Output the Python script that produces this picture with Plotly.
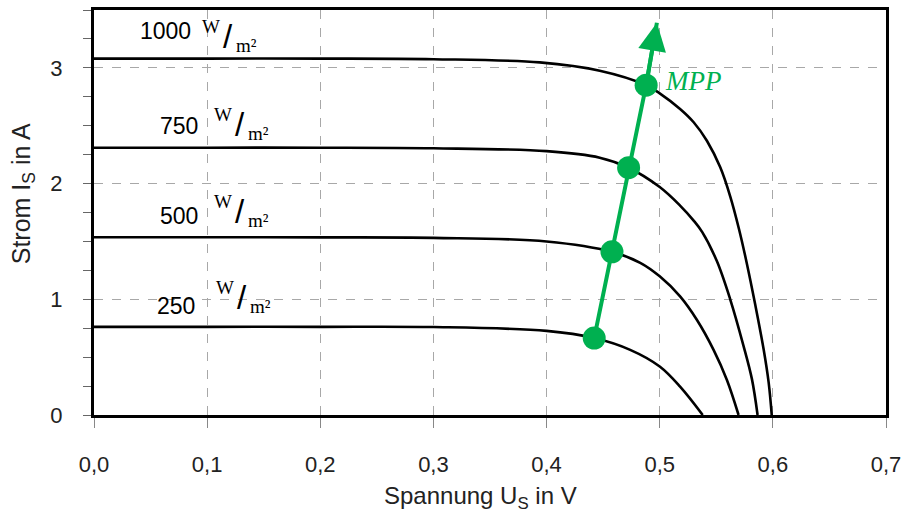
import plotly.graph_objects as go

# ---------------- data ----------------
irradiance_labels = ["1000", "750", "500", "250"]

U_1000 = [0.00, 0.10, 0.20, 0.30, 0.394, 0.447, 0.488, 0.500, 0.518, 0.530, 0.5417, 0.5535, 0.5623, 0.570, 0.577, 0.5845, 0.5918, 0.5963, 0.599]
I_1000 = [3.08, 3.08, 3.08, 3.075, 3.047, 2.975, 2.85, 2.78, 2.645, 2.53, 2.37, 2.14, 1.89, 1.61, 1.31, 0.95, 0.57, 0.28, 0.0]

U_750 = [0.00, 0.10, 0.20, 0.30, 0.40, 0.447, 0.4725, 0.500, 0.518, 0.530, 0.5376, 0.5505, 0.5623, 0.574, 0.5815, 0.5865]
I_750 = [2.31, 2.31, 2.31, 2.305, 2.28, 2.224, 2.137, 1.97, 1.81, 1.68, 1.58, 1.33, 1.00, 0.60, 0.31, 0.0]

U_500 = [0.00, 0.10, 0.20, 0.30, 0.40, 0.4578, 0.4828, 0.500, 0.518, 0.5328, 0.5476, 0.5594, 0.5697]
I_500 = [1.536, 1.536, 1.535, 1.531, 1.50, 1.41, 1.315, 1.198, 1.025, 0.823, 0.563, 0.303, 0.0]

U_250 = [0.00, 0.10, 0.20, 0.30, 0.40, 0.4421, 0.4739, 0.500, 0.518, 0.538]
I_250 = [0.762, 0.762, 0.762, 0.76, 0.727, 0.665, 0.563, 0.419, 0.245, 0.0]

MPP_U = [0.4421, 0.4578, 0.4725, 0.488]
MPP_I = [0.665, 1.41, 2.137, 2.85]
ARROW_TIP_U = 0.4975
ARROW_TIP_I = 3.39

x_ticks = [0.0, 0.1, 0.2, 0.3, 0.4, 0.5, 0.6, 0.7]
y_ticks = [0, 1, 2, 3]

# ---------------- styling / label placement ----------------
GREEN = "#00b050"
SANS = "Liberation Sans, Arial, sans-serif"
SERIF = "Liberation Serif, Times New Roman, serif"

# number right edge (x), number centre (y), slash centre (x, y)
label_pos = [
    (0.0875, 3.319, 0.1185, 3.267),
    (0.0937, 2.496, 0.1291, 2.513),
    (0.0937, 1.716, 0.1291, 1.759),
    (0.0911, 0.945, 0.1309, 1.014),
]

fig = go.Figure()

curves = [(U_1000, I_1000), (U_750, I_750), (U_500, I_500), (U_250, I_250)]
for (u, i), name in zip(curves, irradiance_labels):
    fig.add_trace(go.Scatter(
        x=u, y=i, mode="lines", name=name,
        line=dict(color="black", width=2.6, shape="spline", smoothing=1.0),
        hoverinfo="skip", showlegend=False,
    ))

# MPP line
fig.add_trace(go.Scatter(
    x=MPP_U + [ARROW_TIP_U], y=MPP_I + [ARROW_TIP_I], mode="lines",
    line=dict(color=GREEN, width=4), showlegend=False, hoverinfo="skip",
))
# MPP markers
fig.add_trace(go.Scatter(
    x=MPP_U, y=MPP_I, mode="markers",
    marker=dict(color=GREEN, size=23, line=dict(width=0)),
    showlegend=False, hoverinfo="skip",
))

annotations = []
# arrowhead
annotations.append(dict(
    x=ARROW_TIP_U, y=ARROW_TIP_I, ax=MPP_U[-1], ay=MPP_I[-1],
    xref="x", yref="y", axref="x", ayref="y",
    showarrow=True, arrowhead=2, arrowsize=1.4, arrowwidth=4,
    arrowcolor=GREEN, text=" ", standoff=0,
))
annotations.append(dict(
    x=0.503, y=2.886, xref="x", yref="y", text="<i>MPP</i>",
    showarrow=False, xanchor="left", yanchor="middle",
    font=dict(family=SERIF, size=27, color=GREEN),
))

for lab, (nx, ny, sx, sy) in zip(irradiance_labels, label_pos):
    annotations.append(dict(
        x=nx, y=ny, xref="x", yref="y", text=lab, showarrow=False,
        xanchor="right", yanchor="middle",
        font=dict(family=SANS, size=23, color="black"),
    ))
    annotations.append(dict(
        x=sx, y=sy, xref="x", yref="y", text="/", showarrow=False,
        xanchor="center", yanchor="middle",
        font=dict(family=SANS, size=33, color="black"),
    ))
    annotations.append(dict(
        x=sx, y=sy, xref="x", yref="y", text="W", showarrow=False,
        xanchor="right", yanchor="middle", xshift=-6, yshift=10,
        font=dict(family=SERIF, size=19, color="black"),
    ))
    annotations.append(dict(
        x=sx, y=sy, xref="x", yref="y", text="m²", showarrow=False,
        xanchor="left", yanchor="middle", xshift=6, yshift=-9,
        font=dict(family=SERIF, size=19, color="black"),
    ))

# axis titles
annotations.append(dict(
    x=0.4886, y=0, xref="paper", yref="paper", yshift=-82,
    text="Spannung U<sub>S</sub> in V", showarrow=False,
    xanchor="center", yanchor="middle",
    font=dict(family=SANS, size=24, color="#222"),
))
annotations.append(dict(
    x=0, y=0.545, xref="paper", yref="paper", xshift=-71,
    text="Strom I<sub>S</sub> in A", showarrow=False, textangle=-90,
    xanchor="center", yanchor="middle",
    font=dict(family=SANS, size=25, color="#222"),
))

fig.update_layout(
    width=904, height=513,
    margin=dict(l=94, r=18, t=10, b=98, autoexpand=False),
    paper_bgcolor="white", plot_bgcolor="white",
    separators=", ",
    annotations=annotations,
    showlegend=False,
)

fig.update_xaxes(
    range=[0, 0.7], tickvals=x_ticks, tickformat=".1f", automargin=False,
    showline=True, linecolor="black", linewidth=3, mirror=True,
    showgrid=True, gridcolor="#a8a8a8", griddash="dash", gridwidth=1,
    zeroline=False,
    ticks="outside", ticklen=10, tickcolor="#888", tickwidth=1,
    ticklabelstandoff=18,
    tickfont=dict(family=SANS, size=22, color="#222"),
)
fig.update_yaxes(
    range=[0, 3.5], tickvals=y_ticks, automargin=False,
    showline=True, linecolor="black", linewidth=3, mirror=True,
    showgrid=True, gridcolor="#a8a8a8", griddash="dash", gridwidth=1,
    zeroline=False,
    ticks="outside", ticklen=8, tickcolor="#666", tickwidth=1,
    ticklabelstandoff=16,
    tickfont=dict(family=SANS, size=22, color="#222"),
    minor=dict(dtick=0.25, tick0=0, ticks="outside", ticklen=8, tickcolor="#666", tickwidth=1, showgrid=False),
)

fig.write_html("out.html")
